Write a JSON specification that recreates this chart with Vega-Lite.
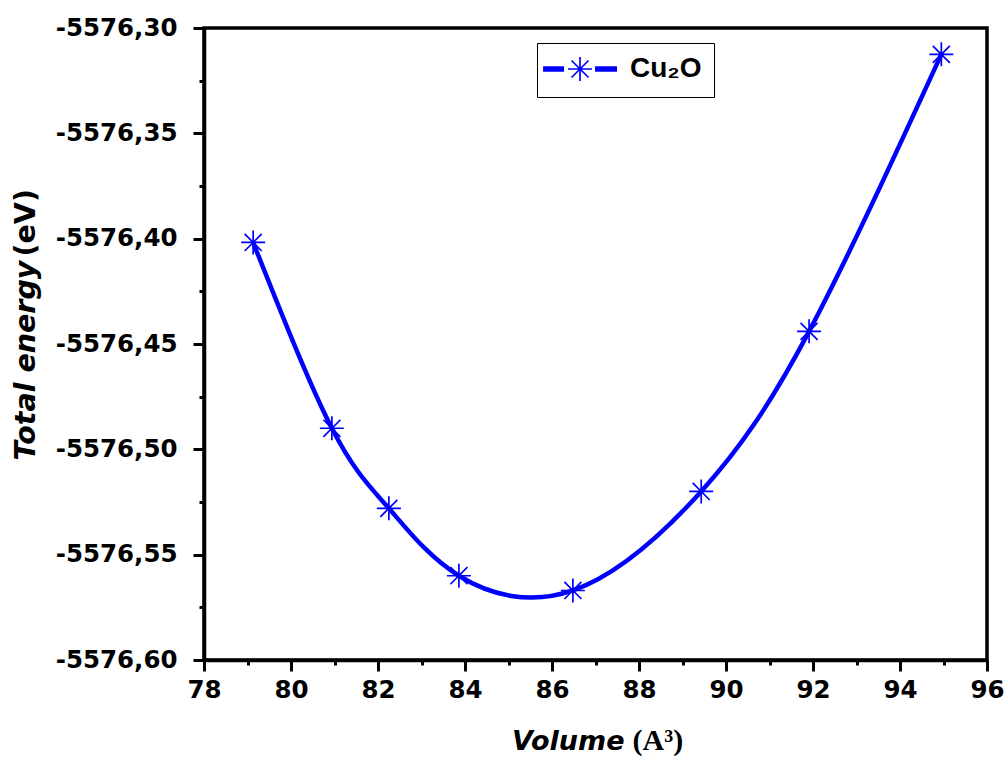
{
  "$schema": "https://vega.github.io/schema/vega-lite/v6.json",
  "width": 783,
  "height": 632,
  "autosize": {"type": "none"},
  "padding": {"left": 204, "top": 28, "right": 21, "bottom": 114},
  "background": "white",
  "data": {
    "values": [
      {"volume": 79.13, "energy": -5576.4018, "series": "Cu₂O"},
      {"volume": 80.94, "energy": -5576.490, "series": "Cu₂O"},
      {"volume": 82.25, "energy": -5576.528, "series": "Cu₂O"},
      {"volume": 83.86, "energy": -5576.560, "series": "Cu₂O"},
      {"volume": 86.48, "energy": -5576.567, "series": "Cu₂O"},
      {"volume": 89.43, "energy": -5576.520, "series": "Cu₂O"},
      {"volume": 91.91, "energy": -5576.444, "series": "Cu₂O"},
      {"volume": 94.95, "energy": -5576.3125, "series": "Cu₂O"}
    ]
  },
  "layer": [
    {
      "mark": {"type": "line", "interpolate": "natural", "color": "#0000FF", "strokeWidth": 4.5},
      "encoding": {
        "x": {
          "field": "volume", "type": "quantitative",
          "scale": {"domain": [78, 96], "nice": false, "zero": false},
          "axis": {
            "values": [78, 80, 82, 84, 86, 88, 90, 92, 94, 96],
            "title": "Volume",
            "titleFont": "DejaVu Sans", "titleFontSize": 27, "titleFontWeight": "bold", "titleFontStyle": "italic",
            "titleAlign": "right", "titleBaseline": "alphabetic", "titleX": 420, "titleY": 89, "titleAngle": 0,
            "labelFont": "DejaVu Sans", "labelFontSize": 24.5, "labelFontWeight": "bold", "labelColor": "black",
            "labelPadding": 7, "tickSize": 11, "labelFlush": false
          }
        },
        "y": {
          "field": "energy", "type": "quantitative",
          "scale": {"domain": [-5576.6, -5576.3], "nice": false, "zero": false},
          "axis": {
            "values": [-5576.6, -5576.55, -5576.5, -5576.45, -5576.4, -5576.35, -5576.3],
            "labelExpr": "replace(replace(format(datum.value, '.2f'), '.', ','), '−', '-')",
            "title": "Total energy",
            "titleFont": "DejaVu Sans", "titleFontSize": 28.5, "titleFontWeight": "bold", "titleFontStyle": "italic",
            "titleAlign": "left", "titleBaseline": "alphabetic", "titleX": -170, "titleY": 432, "titleAngle": 270,
            "labelFont": "DejaVu Sans", "labelFontSize": 24.5, "labelFontWeight": "bold", "labelColor": "black",
            "labelPadding": 16, "tickSize": 11, "labelFlush": false
          }
        }
      }
    },
    {
      "mark": {
        "type": "point",
        "shape": "M0,-1L0,1M-1,0L1,0M-0.71,-0.71L0.71,0.71M-0.71,0.71L0.71,-0.71",
        "filled": false, "size": 576, "strokeWidth": 1.7, "opacity": 1
      },
      "encoding": {
        "x": {"field": "volume", "type": "quantitative", "axis": null},
        "y": {"field": "energy", "type": "quantitative", "axis": null},
        "color": {
          "field": "series", "type": "nominal",
          "scale": {"domain": ["Cu₂O"], "range": ["#0000FF"]},
          "legend": {
            "title": null,
            "orient": "none", "legendX": 333, "legendY": 15,
            "padding": 12, "strokeColor": "black", "cornerRadius": 0,
            "symbolType": "M-1.66,-0.15H0.09M-1.66,-0.05H0.09M-1.66,0.05H0.09M-1.66,0.15H0.09M2.67,-0.15H4.5M2.67,-0.05H4.5M2.67,0.05H4.5M2.67,0.15H4.5M1.42,-1L1.42,1M0.42,0L2.42,0M0.71,-0.71L2.13,0.71M0.71,0.71L2.13,-0.71",
            "symbolSize": 576, "symbolStrokeWidth": 1.7,
            "labelFont": "Liberation Sans", "labelFontSize": 28, "labelFontWeight": "bold", "labelColor": "black",
            "labelOffset": 53,
            "encode": {
              "legend": {"update": {"strokeWidth": {"value": 1.5}}},
              "symbols": {"update": {"stroke": {"value": "#0000FF"}, "opacity": {"value": 1}}}
            }
          }
        }
      }
    },
    {
      "mark": {"type": "point", "opacity": 0},
      "encoding": {
        "x": {
          "field": "volume", "type": "quantitative",
          "axis": {
            "orient": "bottom",
            "values": [79, 81, 83, 85, 87, 89, 91, 93, 95],
            "labels": false, "domain": false, "tickSize": 5,
            "title": "(A³)",
            "titleFont": "Liberation Serif", "titleFontSize": 30, "titleFontWeight": "bold", "titleFontStyle": "normal",
            "titleAlign": "left", "titleBaseline": "alphabetic", "titleX": 428, "titleY": 89, "titleAngle": 0
          }
        },
        "y": {
          "field": "energy", "type": "quantitative",
          "axis": {
            "orient": "left",
            "values": [-5576.575, -5576.525, -5576.475, -5576.425, -5576.375, -5576.325],
            "labels": false, "domain": false, "tickSize": 5,
            "title": "(eV)",
            "titleFont": "DejaVu Sans", "titleFontSize": 28.5, "titleFontWeight": "bold", "titleFontStyle": "normal",
            "titleAlign": "left", "titleBaseline": "alphabetic", "titleX": -170, "titleY": 228, "titleAngle": 270
          }
        }
      }
    }
  ],
  "resolve": {"axis": {"x": "independent", "y": "independent"}},
  "config": {
    "view": {"stroke": "black", "strokeWidth": 3.5},
    "axis": {
      "grid": false,
      "domainColor": "black", "domainWidth": 3.5,
      "tickColor": "black", "tickWidth": 3,
      "titleColor": "black"
    }
  }
}
